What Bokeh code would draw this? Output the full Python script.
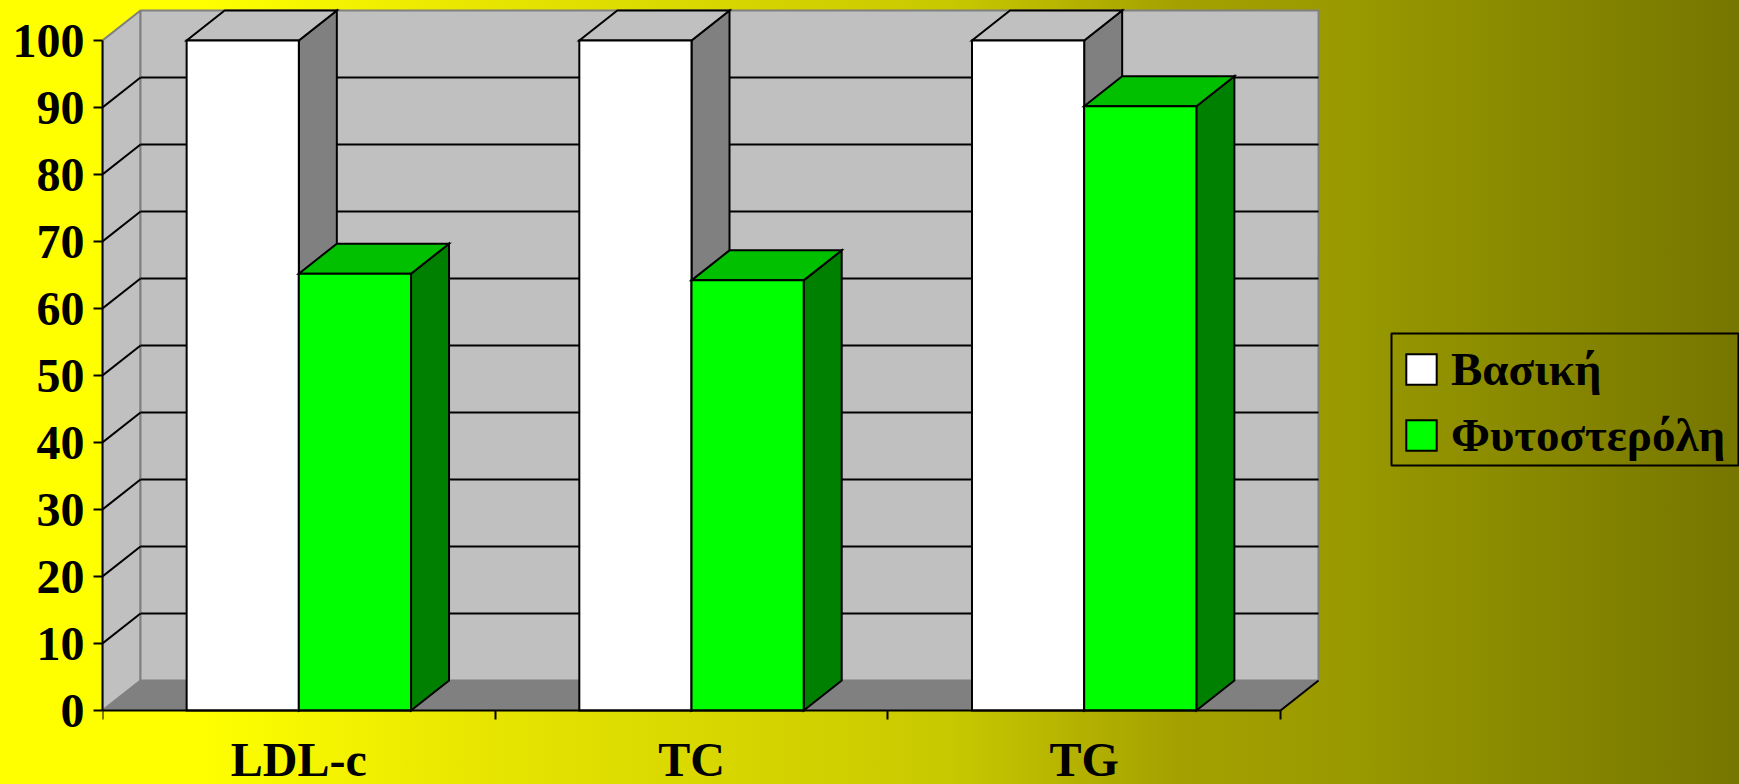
from bokeh.embed import file_html
from bokeh.models import FixedTicker, Legend, LegendItem, Range1d
from bokeh.plotting import figure
from bokeh.resources import INLINE

categories = ["LDL-c", "TC", "TG"]
baseline = [100, 100, 100]
phytosterol = [65.2, 64.2, 90.2]
y_ticks = [0, 10, 20, 30, 40, 50, 60, 70, 80, 90, 100]
series_names = ["Βασική", "Φυτοστερόλη"]

FONT = "Liberation Serif"

# Pixel scale of the drawing area: one category and one value unit.
PX_PER_CAT = 392.67
PX_PER_UNIT = 6.7
LEFT, BOTTOM = 102, 74
WIDTH, HEIGHT = 1739, 784

# Oblique projection depth of the 3D box, in data units.
DEPTH_X = 38 / PX_PER_CAT
DEPTH_Y = 30 / PX_PER_UNIT
BAR_W = 1 / 3.5
GAP = 0.75 * BAR_W

# The frame runs to the bottom of the page; the value axis zero sits above it.
p = figure(
    width=WIDTH, height=HEIGHT, output_backend="svg", toolbar_location=None,
    x_range=Range1d(0, (WIDTH - LEFT) / PX_PER_CAT),
    y_range=Range1d(-BOTTOM / PX_PER_UNIT, (HEIGHT - BOTTOM) / PX_PER_UNIT),
    min_border_left=LEFT, min_border_bottom=0, min_border_top=0, min_border_right=0,
    background_fill_alpha=0, border_fill_alpha=0, outline_line_color=None,
)
p.styles = {
    "background": "linear-gradient(to right, #ffff00 0px, #ffff00 200px, #e6e400 500px, "
                  "#c8c800 950px, #a4a000 1180px, #999900 1350px, #767600 1739px)"
}
p.grid.visible = False

n = len(categories)
top = max(y_ticks)

# Box walls and floor
p.patch([0, DEPTH_X, DEPTH_X, 0], [0, DEPTH_Y, top + DEPTH_Y, top],
        fill_color="#c0c0c0", line_color="#808080", line_width=2)
p.patch([DEPTH_X, n + DEPTH_X, n + DEPTH_X, DEPTH_X], [DEPTH_Y, DEPTH_Y, top + DEPTH_Y, top + DEPTH_Y],
        fill_color="#c0c0c0", line_color="#808080", line_width=2)
p.patch([0, n, n + DEPTH_X, DEPTH_X], [0, 0, DEPTH_Y, DEPTH_Y],
        fill_color="#808080", line_color=None)
p.line([n, n + DEPTH_X], [0, DEPTH_Y], line_color="black", line_width=2)

# Gridlines wrap from the side wall onto the back wall
inner = y_ticks[1:-1]
p.segment([0] * len(inner), inner, [DEPTH_X] * len(inner), [v + DEPTH_Y for v in inner],
          line_color="black", line_width=2)
p.segment([DEPTH_X] * len(inner), [v + DEPTH_Y for v in inner],
          [n + DEPTH_X] * len(inner), [v + DEPTH_Y for v in inner],
          line_color="black", line_width=2)


def draw_series(values, offset, front, roof, side):
    """Draw one series as 3D columns; returns the front-face renderer."""
    lefts = [i + GAP + offset * BAR_W for i in range(n)]
    rights = [x + BAR_W for x in lefts]
    style = dict(line_color="black", line_width=2, line_join="miter")
    p.patches(
        [[r, r + DEPTH_X, r + DEPTH_X, r] for r in rights],
        [[0, DEPTH_Y, v + DEPTH_Y, v] for v in values],
        fill_color=side, **style)
    p.patches(
        [[l, r, r + DEPTH_X, l + DEPTH_X] for l, r in zip(lefts, rights)],
        [[v, v, v + DEPTH_Y, v + DEPTH_Y] for v in values],
        fill_color=roof, **style)
    return p.quad(left=lefts, right=rights, bottom=[0] * n, top=values, fill_color=front, **style)


base_bars = draw_series(baseline, 0, "#ffffff", "#c0c0c0", "#808080")
phyto_bars = draw_series(phytosterol, 1, "#00ff00", "#00c000", "#008000")

# Axes: category names sit mid-slot, tick marks at the slot boundaries
xa = p.xaxis[0]
xa.fixed_location = 0
xa.ticker = FixedTicker(ticks=[i + 0.5 for i in range(n)], minor_ticks=list(range(n + 1)))
xa.major_label_overrides = {i + 0.5: c for i, c in enumerate(categories)}
xa.bounds = (0, n)
xa.major_tick_line_color = None
xa.major_tick_out = 0
xa.major_tick_in = 0
xa.minor_tick_out = 9
xa.minor_tick_in = 0
xa.minor_tick_line_color = "black"
xa.minor_tick_line_width = 2
xa.axis_line_color = "black"
xa.axis_line_width = 2
xa.major_label_standoff = 13
xa.major_label_text_font = FONT
xa.major_label_text_font_style = "bold"
xa.major_label_text_font_size = "48px"
xa.major_label_text_color = "black"

ya = p.yaxis[0]
ya.ticker = FixedTicker(ticks=y_ticks)
ya.bounds = (0, top)
ya.major_tick_out = 9
ya.major_tick_in = 0
ya.minor_tick_line_color = None
ya.major_tick_line_color = "black"
ya.major_tick_line_width = 2
ya.axis_line_color = "black"
ya.axis_line_width = 2
ya.major_label_standoff = 9
ya.major_label_text_font = FONT
ya.major_label_text_font_style = "bold"
ya.major_label_text_font_size = "48px"
ya.major_label_text_color = "black"

# Legend frame, running to the right edge of the page
def px_x(x):
    return (x - LEFT) / PX_PER_CAT


def px_y(y):
    return (HEIGHT - BOTTOM - y) / PX_PER_UNIT


p.quad(left=[px_x(1391)], right=[px_x(1738)], top=[px_y(333)], bottom=[px_y(465)],
       fill_alpha=0, line_color="black", line_width=2)

legend = Legend(
    items=[LegendItem(label=series_names[0], renderers=[base_bars]),
           LegendItem(label=series_names[1], renderers=[phyto_bars])],
    location=(1300, 322), orientation="vertical", margin=0, padding=16, spacing=12,
    glyph_width=38, glyph_height=38, label_standoff=11,
    label_text_font=FONT, label_text_font_style="bold", label_text_font_size="47px",
    label_text_color="black", background_fill_alpha=0, border_line_color=None,
)
p.add_layout(legend)

open("out.html", "w").write(file_html(p, INLINE))
